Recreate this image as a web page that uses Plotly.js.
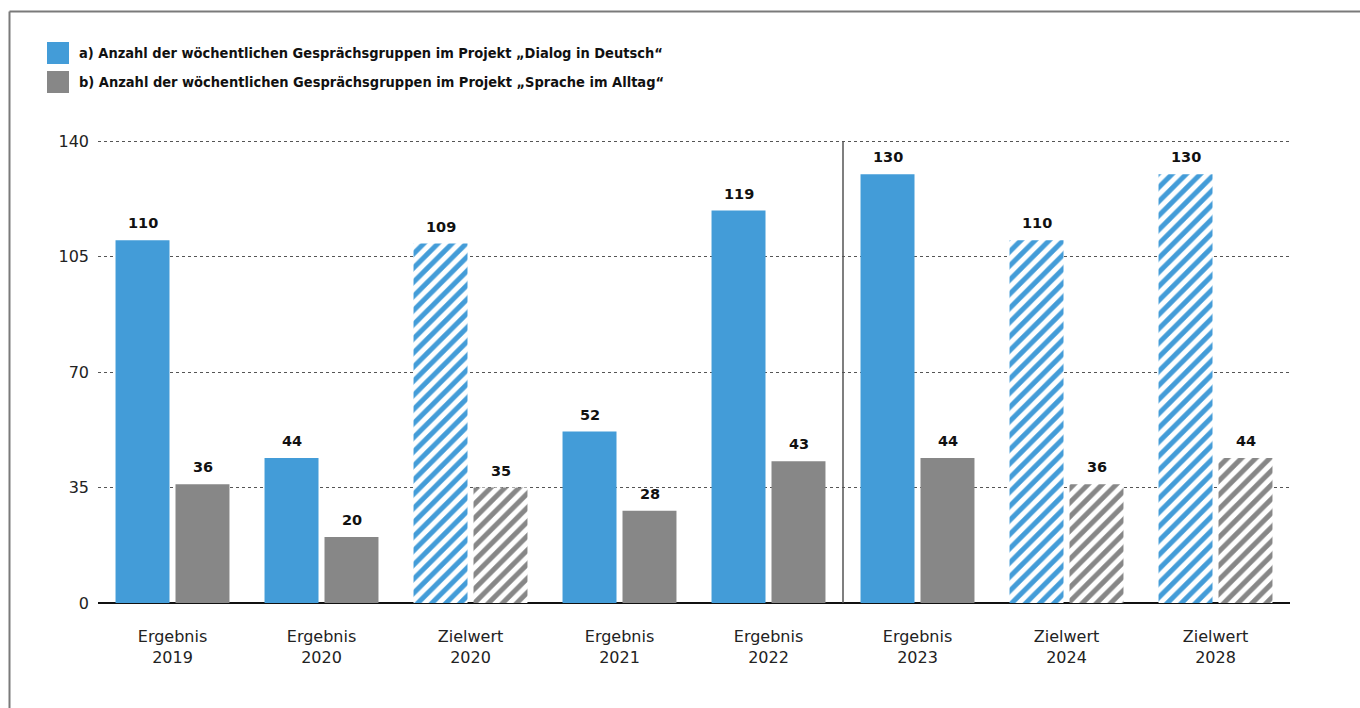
<!DOCTYPE html>
<html>
<head>
<meta charset="utf-8">
<script src="https://cdn.plot.ly/plotly-3.0.1.min.js"></script>
<style>
html,body{margin:0;padding:0;background:#fff;}
#chart{width:1360px;height:708px;}
</style>
</head>
<body>
<div id="chart"></div>
<script>
// ---- data ----
const categories = ['E2019', 'E2020', 'Z2020', 'E2021', 'E2022', 'E2023', 'Z2024', 'Z2028'];
const tickLabels = ['Ergebnis<br>2019', 'Ergebnis<br>2020', 'Zielwert<br>2020', 'Ergebnis<br>2021',
                    'Ergebnis<br>2022', 'Ergebnis<br>2023', 'Zielwert<br>2024', 'Zielwert<br>2028'];
const dialogValues = [110, 44, 109, 52, 119, 130, 110, 130];
const spracheValues = [36, 20, 35, 28, 43, 44, 36, 44];
const isTarget = [false, false, true, false, false, false, true, true];
const seriesNames = [
  'a) Anzahl der wöchentlichen Gesprächsgruppen im Projekt „Dialog in Deutsch“',
  'b) Anzahl der wöchentlichen Gesprächsgruppen im Projekt „Sprache im Alltag“'
];
const yTicks = [0, 35, 70, 105, 140];

// ---- styles ----
const BLUE = '#439cd8';
const GRAY = '#878787';
const patternShapes = isTarget.map(t => t ? '/' : '');

function barTrace(name, values, color) {
  return {
    type: 'bar',
    name: name,
    x: categories,
    y: values,
    marker: {
      color: color,
      line: {width: 0},
      pattern: {shape: patternShapes, fgcolor: '#ffffff', fgopacity: 1, fillmode: 'overlay', size: 10, solidity: 0.5}
    },
    hoverinfo: 'y',
    showlegend: false
  };
}

const traces = [
  barTrace(seriesNames[0], dialogValues, BLUE),
  barTrace(seriesNames[1], spracheValues, GRAY)
];

// value labels
const annotations = [];
const seriesVals = [dialogValues, spracheValues];
const shifts = [-30, 30];
seriesVals.forEach((vals, s) => {
  vals.forEach((v, i) => {
    annotations.push({
      x: categories[i], y: v, xref: 'x', yref: 'y',
      text: String(v), showarrow: false,
      xanchor: 'center', yanchor: 'bottom',
      xshift: shifts[s], yshift: 7,
      font: {family: 'DejaVu Sans', size: 14.5, color: '#111', weight: 'bold'}
    });
  });
});

// legend (custom)
const L = 98, W = 1192, B = 603, H = 603 - 138;
const px = v => (v - L) / W;
const py = v => (B - v) / H;
const legendRows = [{color: BLUE, top: 42}, {color: GRAY, top: 71}];
const shapes = [];
legendRows.forEach((r, i) => {
  shapes.push({type: 'rect', xref: 'paper', yref: 'paper',
    x0: px(47), x1: px(69), y0: py(r.top + 22), y1: py(r.top),
    fillcolor: r.color, line: {width: 0}});
  annotations.push({xref: 'paper', yref: 'paper', x: px(77), y: py(r.top + 11),
    xanchor: 'left', yanchor: 'middle', showarrow: false, text: seriesNames[i],
    font: {family: 'DejaVu Sans Condensed', size: 14.5, color: '#111', weight: 'bold'}});
});

// frame (top & left border)
shapes.push({type: 'line', xref: 'paper', yref: 'paper', x0: px(9.5), x1: px(1370), y0: py(11.5), y1: py(11.5),
  line: {color: '#7a7a7a', width: 2}});
shapes.push({type: 'line', xref: 'paper', yref: 'paper', x0: px(9.5), x1: px(9.5), y0: py(11.5), y1: py(720),
  line: {color: '#7a7a7a', width: 2}});
// separator between 2022 and 2023
shapes.push({type: 'line', xref: 'x', yref: 'y', x0: 4.5, x1: 4.5, y0: 0, y1: 140,
  line: {color: '#555', width: 1.5}});

const layout = {
  width: 1360, height: 708,
  margin: {l: 98, r: 70, t: 138, b: 105, pad: 0},
  paper_bgcolor: '#fff', plot_bgcolor: '#fff',
  barmode: 'group', bargap: 0.195, bargroupgap: 0.1,
  font: {family: 'DejaVu Sans', size: 16, color: '#222'},
  xaxis: {
    type: 'category', tickvals: categories, ticktext: tickLabels,
    range: [-0.5, 7.5], showgrid: false, showline: false, ticks: '',
    ticklabelstandoff: 22,
    tickfont: {family: 'DejaVu Sans', size: 16, color: '#222'}
  },
  yaxis: {
    range: [0, 141], tickvals: yTicks, ticktext: yTicks.map(String),
    showgrid: true, gridcolor: '#555', griddash: 'dot', gridwidth: 1,
    zeroline: true, zerolinecolor: '#111', zerolinewidth: 1.5,
    showline: false, ticks: '', ticklabelstandoff: 8,
    tickfont: {family: 'DejaVu Sans', size: 16, color: '#222'}
  },
  shapes: shapes,
  annotations: annotations
};

Plotly.newPlot('chart', traces, layout, {displayModeBar: false, staticPlot: true});
</script>
</body>
</html>
